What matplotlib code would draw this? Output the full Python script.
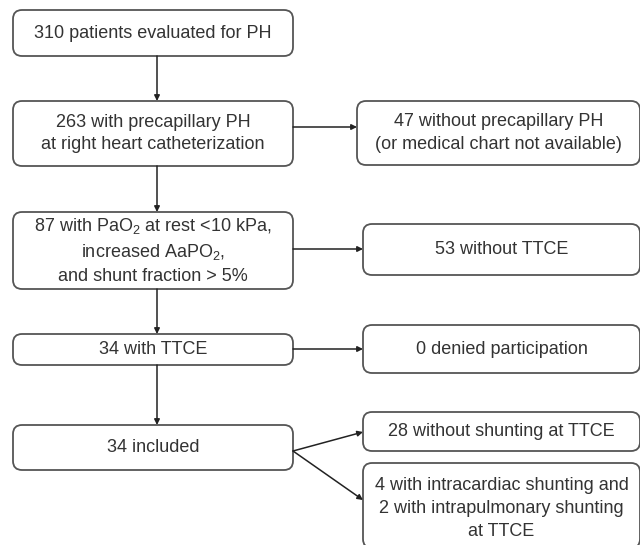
import matplotlib
matplotlib.use("Agg")
import matplotlib.pyplot as plt
from matplotlib.patches import FancyBboxPatch

plt.rcParams['font.family'] = ['Liberation Sans', 'DejaVu Sans']
plt.rcParams['mathtext.fontset'] = 'custom'
plt.rcParams['mathtext.rm'] = 'Liberation Sans'
plt.rcParams['mathtext.it'] = 'Liberation Sans'
plt.rcParams['mathtext.bf'] = 'Liberation Sans'

# box texts (left column = main flow, right column = exclusions)
left_texts = [
    "310 patients evaluated for PH",
    "263 with precapillary PH\nat right heart catheterization",
    "87 with PaO$_2$ at rest <10 kPa,\nincreased AaPO$_2$,\nand shunt fraction > 5%",
    "34 with TTCE",
    "34 included",
]
right_texts = [
    "47 without precapillary PH\n(or medical chart not available)",
    "53 without TTCE",
    "0 denied participation",
    "28 without shunting at TTCE",
    "4 with intracardiac shunting and\n2 with intrapulmonary shunting\nat TTCE",
]
# which left box each right box hangs off
right_parent = [1, 2, 3, 4, 4]

# layout in pixels (x0, y0, x1, y1), y measured from the top
left_boxes = [(13, 10, 293, 56), (13, 101, 293, 166), (13, 212, 293, 289),
              (13, 334, 293, 365), (13, 425, 293, 470)]
right_boxes = [(357, 101, 640, 165), (363, 224, 640, 275), (363, 325, 640, 373),
               (363, 412, 640, 451), (363, 463, 640, 548)]
right_arrow_y = [127, 249, 349, 432, 500]
left_arrow_y = [127, 249, 349, 451, 451]

EDGE = "#555555"
TXT = "#333333"

fig = plt.figure(figsize=(6.4, 5.45), dpi=100)
ax = fig.add_axes([0, 0, 1, 1])
ax.set_xlim(0, 640)
ax.set_ylim(545, 0)
ax.axis("off")


def draw_box(box, text, dy=0):
    x0, y0, x1, y1 = box
    ax.add_patch(FancyBboxPatch((x0, y0), x1 - x0, y1 - y0,
                                boxstyle="round,pad=0,rounding_size=9",
                                fc="white", ec=EDGE, lw=1.3))
    ax.text((x0 + x1) / 2, (y0 + y1) / 2 + dy, text, ha="center",
            va="center", fontsize=13, color=TXT, linespacing=1.45)


def arrow(x0, y0, x1, y1):
    ax.annotate("", xy=(x1, y1), xytext=(x0, y0),
                arrowprops=dict(arrowstyle="-|>", mutation_scale=8, lw=1.1,
                                color="#222222", shrinkA=0, shrinkB=0))


for box, text in zip(left_boxes, left_texts):
    draw_box(box, text)
for i, (box, text) in enumerate(zip(right_boxes, right_texts)):
    draw_box(box, text, dy=3 if i == 4 else 0)

# vertical arrows between main boxes
cx = 157
for upper, lower in zip(left_boxes[:-1], left_boxes[1:]):
    arrow(cx, upper[3], cx, lower[1])

# horizontal / diagonal arrows to exclusion boxes
for i, parent in enumerate(right_parent):
    arrow(left_boxes[parent][2], left_arrow_y[i],
          right_boxes[i][0], right_arrow_y[i])

fig.savefig("out.png", dpi=100, facecolor="white")
